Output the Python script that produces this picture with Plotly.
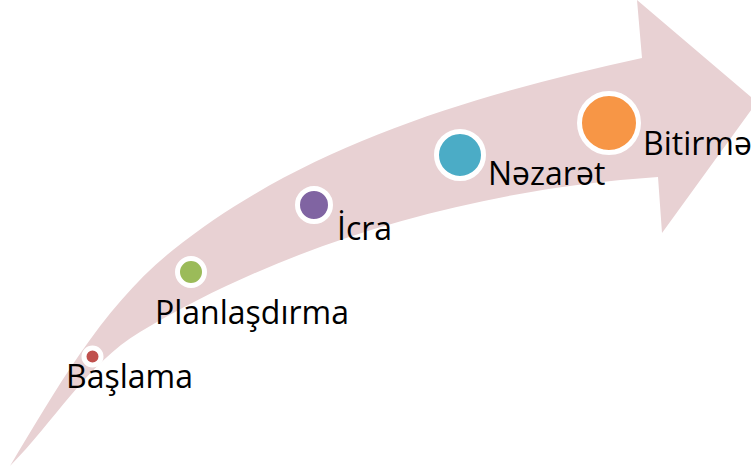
import plotly.graph_objects as go

# ---- data ----
stages = ["Başlama", "Planlaşdırma", "İcra", "Nəzarət", "Bitirmə"]
stage_x = [92.5, 191, 314, 460, 609]
stage_y = [356.5, 272, 205, 155, 123]
stage_size = [17, 27, 33, 47, 59]
stage_colors = ["#C0504D", "#9BBB59", "#8064A2", "#4BACC6", "#F79646"]
label_x = [64, 153, 335, 486, 641]
label_y = [375, 311, 227, 172, 142]

W, H = 751, 467

# arrow outline (diagram geometry in canvas units)
arrow_path = (
    "M 10 466 "
    "C 56.6 389 102.7 306 173 250 "
    "C 305.8 143.8 475.9 94.6 642 58 "
    "L 637 0 L 757 102 L 662 233 L 658 177 "
    "C 478.4 189.2 294.3 239.5 140 332 "
    "C 86.9 363.9 53.8 422 10 466 Z"
)

fig = go.Figure()

fig.add_shape(type="path", path=arrow_path, xref="x", yref="y",
              fillcolor="#E8D1D3", line=dict(width=0), layer="below")

fig.add_trace(go.Scatter(
    x=stage_x, y=stage_y, mode="markers",
    marker=dict(size=stage_size, color=stage_colors, opacity=1,
                line=dict(color="white", width=5)),
    hoverinfo="text", hovertext=stages, showlegend=False,
))

for name, lx, ly in zip(stages, label_x, label_y):
    fig.add_annotation(x=lx, y=ly, text=name, showarrow=False,
                       xanchor="left", yanchor="middle",
                       font=dict(family="Open Sans", size=32, color="black"))

fig.update_layout(
    width=W, height=H,
    margin=dict(l=0, r=0, t=0, b=0),
    paper_bgcolor="white", plot_bgcolor="white",
    xaxis=dict(range=[0, W], visible=False, fixedrange=True),
    yaxis=dict(range=[H, 0], visible=False, fixedrange=True),
)

fig.write_html("out.html", config={"displayModeBar": False},
               post_script="document.body.style.margin='0';document.body.style.overflow='hidden';")
